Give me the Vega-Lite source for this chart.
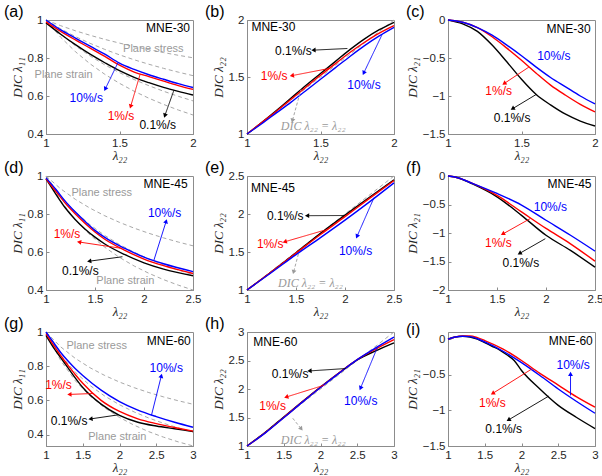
{
"$schema":"https://vega.github.io/schema/vega-lite/v6.json",
"background":"white",
"padding":{"left":3,"top":3,"right":0,"bottom":0},
"datasets":{
"curves":[
{"p":"a","s":"0.1%/s","x":1,"y":0.985},{"p":"a","s":"0.1%/s","x":1.1,"y":0.925},{"p":"a","s":"0.1%/s","x":1.2,"y":0.87},{"p":"a","s":"0.1%/s","x":1.3,"y":0.82},{"p":"a","s":"0.1%/s","x":1.4,"y":0.775},{"p":"a","s":"0.1%/s","x":1.5,"y":0.733},{"p":"a","s":"0.1%/s","x":1.6,"y":0.698},{"p":"a","s":"0.1%/s","x":1.7,"y":0.67},{"p":"a","s":"0.1%/s","x":1.8,"y":0.645},{"p":"a","s":"0.1%/s","x":1.9,"y":0.624},{"p":"a","s":"0.1%/s","x":2,"y":0.605},
{"p":"a","s":"1%/s","x":1,"y":0.99},{"p":"a","s":"1%/s","x":1.1,"y":0.94},{"p":"a","s":"1%/s","x":1.2,"y":0.895},{"p":"a","s":"1%/s","x":1.3,"y":0.852},{"p":"a","s":"1%/s","x":1.4,"y":0.808},{"p":"a","s":"1%/s","x":1.5,"y":0.762},{"p":"a","s":"1%/s","x":1.6,"y":0.726},{"p":"a","s":"1%/s","x":1.7,"y":0.702},{"p":"a","s":"1%/s","x":1.8,"y":0.678},{"p":"a","s":"1%/s","x":1.9,"y":0.655},{"p":"a","s":"1%/s","x":2,"y":0.635},
{"p":"a","s":"10%/s","x":1,"y":1.0},{"p":"a","s":"10%/s","x":1.1,"y":0.948},{"p":"a","s":"10%/s","x":1.2,"y":0.905},{"p":"a","s":"10%/s","x":1.3,"y":0.862},{"p":"a","s":"10%/s","x":1.4,"y":0.82},{"p":"a","s":"10%/s","x":1.5,"y":0.773},{"p":"a","s":"10%/s","x":1.6,"y":0.74},{"p":"a","s":"10%/s","x":1.7,"y":0.712},{"p":"a","s":"10%/s","x":1.8,"y":0.688},{"p":"a","s":"10%/s","x":1.9,"y":0.665},{"p":"a","s":"10%/s","x":2,"y":0.645},

{"p":"b","s":"0.1%/s","x":1,"y":1},{"p":"b","s":"0.1%/s","x":1.1,"y":1.1},{"p":"b","s":"0.1%/s","x":1.2,"y":1.205},{"p":"b","s":"0.1%/s","x":1.3,"y":1.315},{"p":"b","s":"0.1%/s","x":1.4,"y":1.425},{"p":"b","s":"0.1%/s","x":1.5,"y":1.53},{"p":"b","s":"0.1%/s","x":1.6,"y":1.635},{"p":"b","s":"0.1%/s","x":1.7,"y":1.74},{"p":"b","s":"0.1%/s","x":1.8,"y":1.835},{"p":"b","s":"0.1%/s","x":1.9,"y":1.915},{"p":"b","s":"0.1%/s","x":2,"y":1.98},
{"p":"b","s":"1%/s","x":1,"y":1},{"p":"b","s":"1%/s","x":1.1,"y":1.1},{"p":"b","s":"1%/s","x":1.2,"y":1.2},{"p":"b","s":"1%/s","x":1.3,"y":1.305},{"p":"b","s":"1%/s","x":1.4,"y":1.41},{"p":"b","s":"1%/s","x":1.5,"y":1.515},{"p":"b","s":"1%/s","x":1.6,"y":1.615},{"p":"b","s":"1%/s","x":1.7,"y":1.715},{"p":"b","s":"1%/s","x":1.8,"y":1.805},{"p":"b","s":"1%/s","x":1.9,"y":1.885},{"p":"b","s":"1%/s","x":2,"y":1.95},
{"p":"b","s":"10%/s","x":1,"y":1},{"p":"b","s":"10%/s","x":1.1,"y":1.09},{"p":"b","s":"10%/s","x":1.2,"y":1.185},{"p":"b","s":"10%/s","x":1.3,"y":1.28},{"p":"b","s":"10%/s","x":1.4,"y":1.38},{"p":"b","s":"10%/s","x":1.5,"y":1.48},{"p":"b","s":"10%/s","x":1.6,"y":1.58},{"p":"b","s":"10%/s","x":1.7,"y":1.68},{"p":"b","s":"10%/s","x":1.8,"y":1.775},{"p":"b","s":"10%/s","x":1.9,"y":1.86},{"p":"b","s":"10%/s","x":2,"y":1.935},

{"p":"c","s":"0.1%/s","x":1,"y":0},{"p":"c","s":"0.1%/s","x":1.1,"y":-0.05},{"p":"c","s":"0.1%/s","x":1.2,"y":-0.15},{"p":"c","s":"0.1%/s","x":1.3,"y":-0.33},{"p":"c","s":"0.1%/s","x":1.4,"y":-0.55},{"p":"c","s":"0.1%/s","x":1.5,"y":-0.78},{"p":"c","s":"0.1%/s","x":1.6,"y":-0.98},{"p":"c","s":"0.1%/s","x":1.7,"y":-1.12},{"p":"c","s":"0.1%/s","x":1.8,"y":-1.24},{"p":"c","s":"0.1%/s","x":1.9,"y":-1.33},{"p":"c","s":"0.1%/s","x":2,"y":-1.395},
{"p":"c","s":"1%/s","x":1,"y":0},{"p":"c","s":"1%/s","x":1.1,"y":-0.03},{"p":"c","s":"1%/s","x":1.2,"y":-0.1},{"p":"c","s":"1%/s","x":1.3,"y":-0.22},{"p":"c","s":"1%/s","x":1.4,"y":-0.37},{"p":"c","s":"1%/s","x":1.5,"y":-0.53},{"p":"c","s":"1%/s","x":1.6,"y":-0.7},{"p":"c","s":"1%/s","x":1.7,"y":-0.86},{"p":"c","s":"1%/s","x":1.8,"y":-0.99},{"p":"c","s":"1%/s","x":1.9,"y":-1.11},{"p":"c","s":"1%/s","x":2,"y":-1.21},
{"p":"c","s":"10%/s","x":1,"y":0},{"p":"c","s":"10%/s","x":1.1,"y":-0.03},{"p":"c","s":"10%/s","x":1.2,"y":-0.1},{"p":"c","s":"10%/s","x":1.3,"y":-0.2},{"p":"c","s":"10%/s","x":1.4,"y":-0.33},{"p":"c","s":"10%/s","x":1.5,"y":-0.47},{"p":"c","s":"10%/s","x":1.6,"y":-0.62},{"p":"c","s":"10%/s","x":1.7,"y":-0.76},{"p":"c","s":"10%/s","x":1.8,"y":-0.88},{"p":"c","s":"10%/s","x":1.9,"y":-1.0},{"p":"c","s":"10%/s","x":2,"y":-1.105},

{"p":"d","s":"0.1%/s","x":1,"y":0.985},{"p":"d","s":"0.1%/s","x":1.1,"y":0.905},{"p":"d","s":"0.1%/s","x":1.2,"y":0.83},{"p":"d","s":"0.1%/s","x":1.3,"y":0.77},{"p":"d","s":"0.1%/s","x":1.4,"y":0.72},{"p":"d","s":"0.1%/s","x":1.5,"y":0.678},{"p":"d","s":"0.1%/s","x":1.6,"y":0.642},{"p":"d","s":"0.1%/s","x":1.8,"y":0.587},{"p":"d","s":"0.1%/s","x":2,"y":0.543},{"p":"d","s":"0.1%/s","x":2.2,"y":0.51},{"p":"d","s":"0.1%/s","x":2.5,"y":0.475},
{"p":"d","s":"1%/s","x":1,"y":0.985},{"p":"d","s":"1%/s","x":1.1,"y":0.92},{"p":"d","s":"1%/s","x":1.2,"y":0.855},{"p":"d","s":"1%/s","x":1.3,"y":0.8},{"p":"d","s":"1%/s","x":1.4,"y":0.75},{"p":"d","s":"1%/s","x":1.5,"y":0.705},{"p":"d","s":"1%/s","x":1.6,"y":0.667},{"p":"d","s":"1%/s","x":1.8,"y":0.61},{"p":"d","s":"1%/s","x":2,"y":0.563},{"p":"d","s":"1%/s","x":2.2,"y":0.528},{"p":"d","s":"1%/s","x":2.5,"y":0.487},
{"p":"d","s":"10%/s","x":1,"y":0.99},{"p":"d","s":"10%/s","x":1.1,"y":0.93},{"p":"d","s":"10%/s","x":1.2,"y":0.865},{"p":"d","s":"10%/s","x":1.3,"y":0.81},{"p":"d","s":"10%/s","x":1.4,"y":0.76},{"p":"d","s":"10%/s","x":1.5,"y":0.714},{"p":"d","s":"10%/s","x":1.6,"y":0.677},{"p":"d","s":"10%/s","x":1.8,"y":0.62},{"p":"d","s":"10%/s","x":2,"y":0.573},{"p":"d","s":"10%/s","x":2.2,"y":0.538},{"p":"d","s":"10%/s","x":2.5,"y":0.497},

{"p":"e","s":"0.1%/s","x":1,"y":1},{"p":"e","s":"0.1%/s","x":1.25,"y":1.24},{"p":"e","s":"0.1%/s","x":1.5,"y":1.49},{"p":"e","s":"0.1%/s","x":1.75,"y":1.745},{"p":"e","s":"0.1%/s","x":2,"y":1.985},{"p":"e","s":"0.1%/s","x":2.25,"y":2.22},{"p":"e","s":"0.1%/s","x":2.5,"y":2.45},
{"p":"e","s":"1%/s","x":1,"y":1},{"p":"e","s":"1%/s","x":1.25,"y":1.24},{"p":"e","s":"1%/s","x":1.5,"y":1.485},{"p":"e","s":"1%/s","x":1.75,"y":1.73},{"p":"e","s":"1%/s","x":2,"y":1.965},{"p":"e","s":"1%/s","x":2.25,"y":2.205},{"p":"e","s":"1%/s","x":2.5,"y":2.44},
{"p":"e","s":"10%/s","x":1,"y":1},{"p":"e","s":"10%/s","x":1.25,"y":1.23},{"p":"e","s":"10%/s","x":1.5,"y":1.465},{"p":"e","s":"10%/s","x":1.75,"y":1.69},{"p":"e","s":"10%/s","x":2,"y":1.92},{"p":"e","s":"10%/s","x":2.25,"y":2.16},{"p":"e","s":"10%/s","x":2.5,"y":2.41},

{"p":"f","s":"0.1%/s","x":1,"y":0},{"p":"f","s":"0.1%/s","x":1.1,"y":-0.03},{"p":"f","s":"0.1%/s","x":1.25,"y":-0.14},{"p":"f","s":"0.1%/s","x":1.5,"y":-0.365},{"p":"f","s":"0.1%/s","x":1.75,"y":-0.69},{"p":"f","s":"0.1%/s","x":2,"y":-1.04},{"p":"f","s":"0.1%/s","x":2.25,"y":-1.306},{"p":"f","s":"0.1%/s","x":2.5,"y":-1.6},
{"p":"f","s":"1%/s","x":1,"y":0},{"p":"f","s":"1%/s","x":1.1,"y":-0.03},{"p":"f","s":"1%/s","x":1.25,"y":-0.13},{"p":"f","s":"1%/s","x":1.5,"y":-0.34},{"p":"f","s":"1%/s","x":1.75,"y":-0.63},{"p":"f","s":"1%/s","x":2,"y":-0.92},{"p":"f","s":"1%/s","x":2.25,"y":-1.19},{"p":"f","s":"1%/s","x":2.5,"y":-1.494},
{"p":"f","s":"10%/s","x":1,"y":0},{"p":"f","s":"10%/s","x":1.1,"y":-0.03},{"p":"f","s":"10%/s","x":1.25,"y":-0.13},{"p":"f","s":"10%/s","x":1.5,"y":-0.306},{"p":"f","s":"10%/s","x":1.75,"y":-0.51},{"p":"f","s":"10%/s","x":2,"y":-0.776},{"p":"f","s":"10%/s","x":2.25,"y":-1.04},{"p":"f","s":"10%/s","x":2.5,"y":-1.318},

{"p":"g","s":"0.1%/s","x":1,"y":0.98},{"p":"g","s":"0.1%/s","x":1.1,"y":0.91},{"p":"g","s":"0.1%/s","x":1.2,"y":0.85},{"p":"g","s":"0.1%/s","x":1.3,"y":0.79},{"p":"g","s":"0.1%/s","x":1.4,"y":0.73},{"p":"g","s":"0.1%/s","x":1.5,"y":0.675},{"p":"g","s":"0.1%/s","x":1.75,"y":0.578},{"p":"g","s":"0.1%/s","x":2,"y":0.512},{"p":"g","s":"0.1%/s","x":2.25,"y":0.472},{"p":"g","s":"0.1%/s","x":2.5,"y":0.45},{"p":"g","s":"0.1%/s","x":2.75,"y":0.434},{"p":"g","s":"0.1%/s","x":3,"y":0.418},
{"p":"g","s":"1%/s","x":1,"y":0.99},{"p":"g","s":"1%/s","x":1.1,"y":0.925},{"p":"g","s":"1%/s","x":1.2,"y":0.862},{"p":"g","s":"1%/s","x":1.3,"y":0.805},{"p":"g","s":"1%/s","x":1.4,"y":0.75},{"p":"g","s":"1%/s","x":1.5,"y":0.7},{"p":"g","s":"1%/s","x":1.75,"y":0.6},{"p":"g","s":"1%/s","x":2,"y":0.535},{"p":"g","s":"1%/s","x":2.25,"y":0.492},{"p":"g","s":"1%/s","x":2.5,"y":0.464},{"p":"g","s":"1%/s","x":2.75,"y":0.441},{"p":"g","s":"1%/s","x":3,"y":0.42},
{"p":"g","s":"10%/s","x":1,"y":1.0},{"p":"g","s":"10%/s","x":1.1,"y":0.94},{"p":"g","s":"10%/s","x":1.2,"y":0.88},{"p":"g","s":"10%/s","x":1.3,"y":0.83},{"p":"g","s":"10%/s","x":1.4,"y":0.785},{"p":"g","s":"10%/s","x":1.5,"y":0.746},{"p":"g","s":"10%/s","x":1.75,"y":0.66},{"p":"g","s":"10%/s","x":2,"y":0.593},{"p":"g","s":"10%/s","x":2.25,"y":0.543},{"p":"g","s":"10%/s","x":2.5,"y":0.505},{"p":"g","s":"10%/s","x":2.75,"y":0.472},{"p":"g","s":"10%/s","x":3,"y":0.443},

{"p":"h","s":"0.1%/s","x":1,"y":1},{"p":"h","s":"0.1%/s","x":1.25,"y":1.24},{"p":"h","s":"0.1%/s","x":1.5,"y":1.51},{"p":"h","s":"0.1%/s","x":1.75,"y":1.775},{"p":"h","s":"0.1%/s","x":2,"y":2.035},{"p":"h","s":"0.1%/s","x":2.25,"y":2.28},{"p":"h","s":"0.1%/s","x":2.5,"y":2.51},{"p":"h","s":"0.1%/s","x":2.75,"y":2.67},{"p":"h","s":"0.1%/s","x":3,"y":2.81},
{"p":"h","s":"1%/s","x":1,"y":1},{"p":"h","s":"1%/s","x":1.25,"y":1.235},{"p":"h","s":"1%/s","x":1.5,"y":1.5},{"p":"h","s":"1%/s","x":1.75,"y":1.77},{"p":"h","s":"1%/s","x":2,"y":2.03},{"p":"h","s":"1%/s","x":2.25,"y":2.28},{"p":"h","s":"1%/s","x":2.5,"y":2.515},{"p":"h","s":"1%/s","x":2.75,"y":2.7},{"p":"h","s":"1%/s","x":3,"y":2.865},
{"p":"h","s":"10%/s","x":1,"y":1},{"p":"h","s":"10%/s","x":1.25,"y":1.23},{"p":"h","s":"10%/s","x":1.5,"y":1.495},{"p":"h","s":"10%/s","x":1.75,"y":1.765},{"p":"h","s":"10%/s","x":2,"y":2.025},{"p":"h","s":"10%/s","x":2.25,"y":2.275},{"p":"h","s":"10%/s","x":2.5,"y":2.515},{"p":"h","s":"10%/s","x":2.75,"y":2.72},{"p":"h","s":"10%/s","x":3,"y":2.91},

{"p":"i","s":"0.1%/s","x":1,"y":0},{"p":"i","s":"0.1%/s","x":1.1,"y":0.03},{"p":"i","s":"0.1%/s","x":1.2,"y":0.04},{"p":"i","s":"0.1%/s","x":1.3,"y":0.03},{"p":"i","s":"0.1%/s","x":1.4,"y":0.0},{"p":"i","s":"0.1%/s","x":1.5,"y":-0.05},{"p":"i","s":"0.1%/s","x":1.6,"y":-0.1},{"p":"i","s":"0.1%/s","x":1.7,"y":-0.15},{"p":"i","s":"0.1%/s","x":1.8,"y":-0.22},{"p":"i","s":"0.1%/s","x":1.9,"y":-0.3},{"p":"i","s":"0.1%/s","x":2,"y":-0.44},{"p":"i","s":"0.1%/s","x":2.25,"y":-0.7},{"p":"i","s":"0.1%/s","x":2.5,"y":-0.93},{"p":"i","s":"0.1%/s","x":2.75,"y":-1.1},{"p":"i","s":"0.1%/s","x":3,"y":-1.255},
{"p":"i","s":"1%/s","x":1,"y":0},{"p":"i","s":"1%/s","x":1.1,"y":0.03},{"p":"i","s":"1%/s","x":1.2,"y":0.045},{"p":"i","s":"1%/s","x":1.3,"y":0.045},{"p":"i","s":"1%/s","x":1.4,"y":0.02},{"p":"i","s":"1%/s","x":1.5,"y":-0.02},{"p":"i","s":"1%/s","x":1.75,"y":-0.14},{"p":"i","s":"1%/s","x":2,"y":-0.3},{"p":"i","s":"1%/s","x":2.25,"y":-0.48},{"p":"i","s":"1%/s","x":2.5,"y":-0.645},{"p":"i","s":"1%/s","x":2.75,"y":-0.81},{"p":"i","s":"1%/s","x":3,"y":-0.955},
{"p":"i","s":"10%/s","x":1,"y":0},{"p":"i","s":"10%/s","x":1.1,"y":0.03},{"p":"i","s":"10%/s","x":1.2,"y":0.04},{"p":"i","s":"10%/s","x":1.3,"y":0.035},{"p":"i","s":"10%/s","x":1.4,"y":0.005},{"p":"i","s":"10%/s","x":1.5,"y":-0.04},{"p":"i","s":"10%/s","x":1.75,"y":-0.17},{"p":"i","s":"10%/s","x":2,"y":-0.33},{"p":"i","s":"10%/s","x":2.25,"y":-0.51},{"p":"i","s":"10%/s","x":2.5,"y":-0.7},{"p":"i","s":"10%/s","x":2.75,"y":-0.875},{"p":"i","s":"10%/s","x":3,"y":-1.04}
],
"ref":[
{"p":"a","k":"0.32","x":1,"y":1},{"p":"a","k":"0.32","x":1.1,"y":0.97},{"p":"a","k":"0.32","x":1.2,"y":0.9433},{"p":"a","k":"0.32","x":1.3,"y":0.9195},{"p":"a","k":"0.32","x":1.4,"y":0.8979},{"p":"a","k":"0.32","x":1.5,"y":0.8783},{"p":"a","k":"0.32","x":1.6,"y":0.8604},{"p":"a","k":"0.32","x":1.7,"y":0.8438},{"p":"a","k":"0.32","x":1.8,"y":0.8285},{"p":"a","k":"0.32","x":1.9,"y":0.8143},{"p":"a","k":"0.32","x":2,"y":0.8011},
{"p":"a","k":"0.5","x":1,"y":1},{"p":"a","k":"0.5","x":1.1,"y":0.9535},{"p":"a","k":"0.5","x":1.2,"y":0.9129},{"p":"a","k":"0.5","x":1.3,"y":0.8771},{"p":"a","k":"0.5","x":1.4,"y":0.8452},{"p":"a","k":"0.5","x":1.5,"y":0.8165},{"p":"a","k":"0.5","x":1.6,"y":0.7906},{"p":"a","k":"0.5","x":1.7,"y":0.767},{"p":"a","k":"0.5","x":1.8,"y":0.7454},{"p":"a","k":"0.5","x":1.9,"y":0.7255},{"p":"a","k":"0.5","x":2,"y":0.7071},
{"p":"a","k":"0.8","x":1,"y":1},{"p":"a","k":"0.8","x":1.1,"y":0.9266},{"p":"a","k":"0.8","x":1.2,"y":0.8643},{"p":"a","k":"0.8","x":1.3,"y":0.8107},{"p":"a","k":"0.8","x":1.4,"y":0.764},{"p":"a","k":"0.8","x":1.5,"y":0.723},{"p":"a","k":"0.8","x":1.6,"y":0.6866},{"p":"a","k":"0.8","x":1.7,"y":0.6541},{"p":"a","k":"0.8","x":1.8,"y":0.6249},{"p":"a","k":"0.8","x":1.9,"y":0.5984},{"p":"a","k":"0.8","x":2,"y":0.5743},
{"p":"a","k":"1","x":1,"y":1},{"p":"a","k":"1","x":1.1,"y":0.9091},{"p":"a","k":"1","x":1.2,"y":0.8333},{"p":"a","k":"1","x":1.3,"y":0.7692},{"p":"a","k":"1","x":1.4,"y":0.7143},{"p":"a","k":"1","x":1.5,"y":0.6667},{"p":"a","k":"1","x":1.6,"y":0.625},{"p":"a","k":"1","x":1.7,"y":0.5882},{"p":"a","k":"1","x":1.8,"y":0.5556},{"p":"a","k":"1","x":1.9,"y":0.5263},{"p":"a","k":"1","x":2,"y":0.5},
{"p":"b","k":"id","x":1,"y":1},{"p":"b","k":"id","x":2,"y":2},
{"p":"d","k":"0.5","x":1,"y":1},{"p":"d","k":"0.5","x":1.15,"y":0.9325},{"p":"d","k":"0.5","x":1.3,"y":0.8771},{"p":"d","k":"0.5","x":1.45,"y":0.8305},{"p":"d","k":"0.5","x":1.6,"y":0.7906},{"p":"d","k":"0.5","x":1.75,"y":0.7559},{"p":"d","k":"0.5","x":1.9,"y":0.7255},{"p":"d","k":"0.5","x":2.05,"y":0.6984},{"p":"d","k":"0.5","x":2.2,"y":0.6742},{"p":"d","k":"0.5","x":2.35,"y":0.6523},{"p":"d","k":"0.5","x":2.5,"y":0.6325},
{"p":"d","k":"0.8","x":1,"y":1},{"p":"d","k":"0.8","x":1.15,"y":0.8942},{"p":"d","k":"0.8","x":1.3,"y":0.8107},{"p":"d","k":"0.8","x":1.45,"y":0.7429},{"p":"d","k":"0.8","x":1.6,"y":0.6866},{"p":"d","k":"0.8","x":1.75,"y":0.6391},{"p":"d","k":"0.8","x":1.9,"y":0.5984},{"p":"d","k":"0.8","x":2.05,"y":0.5631},{"p":"d","k":"0.8","x":2.2,"y":0.5322},{"p":"d","k":"0.8","x":2.35,"y":0.5048},{"p":"d","k":"0.8","x":2.5,"y":0.4805},
{"p":"d","k":"1","x":1,"y":1},{"p":"d","k":"1","x":1.15,"y":0.8696},{"p":"d","k":"1","x":1.3,"y":0.7692},{"p":"d","k":"1","x":1.45,"y":0.6897},{"p":"d","k":"1","x":1.6,"y":0.625},{"p":"d","k":"1","x":1.75,"y":0.5714},{"p":"d","k":"1","x":1.9,"y":0.5263},{"p":"d","k":"1","x":2.05,"y":0.4878},{"p":"d","k":"1","x":2.2,"y":0.4545},{"p":"d","k":"1","x":2.35,"y":0.4255},{"p":"d","k":"1","x":2.5,"y":0.4},
{"p":"e","k":"id","x":1,"y":1},{"p":"e","k":"id","x":2.5,"y":2.5},
{"p":"g","k":"0.5","x":1,"y":1},{"p":"g","k":"0.5","x":1.2,"y":0.9129},{"p":"g","k":"0.5","x":1.4,"y":0.8452},{"p":"g","k":"0.5","x":1.6,"y":0.7906},{"p":"g","k":"0.5","x":1.8,"y":0.7454},{"p":"g","k":"0.5","x":2,"y":0.7071},{"p":"g","k":"0.5","x":2.2,"y":0.6742},{"p":"g","k":"0.5","x":2.4,"y":0.6455},{"p":"g","k":"0.5","x":2.6,"y":0.6202},{"p":"g","k":"0.5","x":2.8,"y":0.5976},{"p":"g","k":"0.5","x":3,"y":0.5774},
{"p":"g","k":"0.8","x":1,"y":1},{"p":"g","k":"0.8","x":1.2,"y":0.8643},{"p":"g","k":"0.8","x":1.4,"y":0.764},{"p":"g","k":"0.8","x":1.6,"y":0.6866},{"p":"g","k":"0.8","x":1.8,"y":0.6249},{"p":"g","k":"0.8","x":2,"y":0.5743},{"p":"g","k":"0.8","x":2.2,"y":0.5322},{"p":"g","k":"0.8","x":2.4,"y":0.4964},{"p":"g","k":"0.8","x":2.6,"y":0.4656},{"p":"g","k":"0.8","x":2.8,"y":0.4388},{"p":"g","k":"0.8","x":3,"y":0.4153},
{"p":"g","k":"1","x":1,"y":1},{"p":"g","k":"1","x":1.2,"y":0.8333},{"p":"g","k":"1","x":1.4,"y":0.7143},{"p":"g","k":"1","x":1.6,"y":0.625},{"p":"g","k":"1","x":1.8,"y":0.5556},{"p":"g","k":"1","x":2,"y":0.5},{"p":"g","k":"1","x":2.2,"y":0.4545},{"p":"g","k":"1","x":2.4,"y":0.4167},{"p":"g","k":"1","x":2.6,"y":0.3846},{"p":"g","k":"1","x":2.8,"y":0.3571},{"p":"g","k":"1","x":3,"y":0.3333},
{"p":"h","k":"id","x":1,"y":1},{"p":"h","k":"id","x":3,"y":3}
],
"arrows":[
{"p":"a","s":"10%/s","x0":1.49,"y0":0.776,"x":1.405,"y":0.64},
{"p":"a","s":"1%/s","x0":1.64,"y0":0.714,"x":1.577,"y":0.548},
{"p":"a","s":"0.1%/s","x0":1.87,"y0":0.63,"x":1.81,"y":0.5},
{"p":"b","s":"0.1%/s","x0":1.683,"y0":1.75,"x":1.457,"y":1.736},
{"p":"b","s":"1%/s","x0":1.559,"y0":1.575,"x":1.31,"y":1.513},
{"p":"b","s":"10%/s","x0":1.92,"y0":1.875,"x":1.796,"y":1.54},
{"p":"b","s":"eq","x0":1.367,"y0":1.39,"x":1.31,"y":1.123},
{"p":"c","s":"1%/s","x0":1.55,"y0":-0.62,"x":1.386,"y":-0.831},
{"p":"c","s":"0.1%/s","x0":1.6,"y0":-0.98,"x":1.443,"y":-1.163},
{"p":"d","s":"10%/s","x0":2.1,"y0":0.555,"x":2.224,"y":0.758},
{"p":"d","s":"1%/s","x0":1.76,"y0":0.62,"x":1.345,"y":0.652},
{"p":"d","s":"0.1%/s","x0":1.78,"y0":0.575,"x":1.448,"y":0.552},
{"p":"e","s":"0.1%/s","x0":1.99,"y0":1.98,"x":1.62,"y":1.978},
{"p":"e","s":"1%/s","x0":1.8,"y0":1.79,"x":1.392,"y":1.637},
{"p":"e","s":"10%/s","x0":2.296,"y0":2.215,"x":2.125,"y":1.712},
{"p":"e","s":"eq","x0":1.528,"y0":1.49,"x":1.477,"y":1.245},
{"p":"f","s":"1%/s","x0":1.839,"y0":-0.747,"x":1.565,"y":-1.012},
{"p":"f","s":"0.1%/s","x0":1.993,"y0":-1.1,"x":1.736,"y":-1.353},
{"p":"g","s":"10%/s","x0":2.435,"y0":0.513,"x":2.567,"y":0.74},
{"p":"g","s":"1%/s","x0":1.64,"y0":0.64,"x":1.328,"y":0.635},
{"p":"g","s":"0.1%/s","x0":1.98,"y0":0.515,"x":1.615,"y":0.492},
{"p":"h","s":"0.1%/s","x0":2.344,"y0":2.359,"x":1.86,"y":2.318},
{"p":"h","s":"1%/s","x0":2.05,"y0":2.067,"x":1.543,"y":1.863},
{"p":"h","s":"10%/s","x0":2.774,"y0":2.73,"x":2.548,"y":2.026},
{"p":"h","s":"eq","x0":1.606,"y0":1.513,"x":1.733,"y":1.309},
{"p":"i","s":"1%/s","x0":2.142,"y0":-0.418,"x":1.616,"y":-0.757},
{"p":"i","s":"0.1%/s","x0":2.37,"y0":-0.8,"x":1.831,"y":-1.129},
{"p":"i","s":"10%/s","x0":2.667,"y0":-0.79,"x":2.667,"y":-0.497}
],
"labels":[
{"p":"a","s":"name","t":"MNE-30","x":1.83,"y":0.956},
{"p":"a","s":"ref","t":"Plane stress","x":1.73,"y":0.847},
{"p":"a","s":"ref","t":"Plane strain","x":1.12,"y":0.71},
{"p":"a","s":"10%/s","t":"10%/s","x":1.274,"y":0.59},
{"p":"a","s":"1%/s","t":"1%/s","x":1.51,"y":0.496},
{"p":"a","s":"0.1%/s","t":"0.1%/s","x":1.76,"y":0.447},
{"p":"b","s":"name","t":"MNE-30","x":1.18,"y":1.94},
{"p":"b","s":"0.1%/s","t":"0.1%/s","x":1.316,"y":1.727},
{"p":"b","s":"1%/s","t":"1%/s","x":1.185,"y":1.507},
{"p":"b","s":"10%/s","t":"10%/s","x":1.796,"y":1.434},
{"p":"b","s":"eq","t":"DIC λ₂₂ = λ₂₂","x":1.45,"y":1.067},
{"p":"c","s":"name","t":"MNE-30","x":1.82,"y":-0.114},
{"p":"c","s":"10%/s","t":"10%/s","x":1.72,"y":-0.47},
{"p":"c","s":"1%/s","t":"1%/s","x":1.345,"y":-0.93},
{"p":"c","s":"0.1%/s","t":"0.1%/s","x":1.436,"y":-1.294},
{"p":"d","s":"name","t":"MNE-45","x":2.22,"y":0.958},
{"p":"d","s":"ref","t":"Plane stress","x":1.569,"y":0.908},
{"p":"d","s":"ref","t":"Plane strain","x":1.81,"y":0.446},
{"p":"d","s":"10%/s","t":"10%/s","x":2.21,"y":0.806},
{"p":"d","s":"1%/s","t":"1%/s","x":1.214,"y":0.696},
{"p":"d","s":"0.1%/s","t":"0.1%/s","x":1.35,"y":0.499},
{"p":"e","s":"name","t":"MNE-45","x":1.265,"y":2.34},
{"p":"e","s":"0.1%/s","t":"0.1%/s","x":1.39,"y":1.97},
{"p":"e","s":"1%/s","t":"1%/s","x":1.237,"y":1.61},
{"p":"e","s":"10%/s","t":"10%/s","x":2.108,"y":1.512},
{"p":"e","s":"eq","t":"DIC λ₂₂ = λ₂₂","x":1.648,"y":1.089},
{"p":"f","s":"name","t":"MNE-45","x":2.24,"y":-0.14},
{"p":"f","s":"10%/s","t":"10%/s","x":2.045,"y":-0.54},
{"p":"f","s":"1%/s","t":"1%/s","x":1.514,"y":-1.176},
{"p":"f","s":"0.1%/s","t":"0.1%/s","x":1.743,"y":-1.53},
{"p":"g","s":"name","t":"MNE-60","x":2.67,"y":0.947},
{"p":"g","s":"ref","t":"Plane stress","x":1.69,"y":0.916},
{"p":"g","s":"ref","t":"Plane strain","x":1.97,"y":0.388},
{"p":"g","s":"10%/s","t":"10%/s","x":2.636,"y":0.791},
{"p":"g","s":"1%/s","t":"1%/s","x":1.17,"y":0.691},
{"p":"g","s":"0.1%/s","t":"0.1%/s","x":1.314,"y":0.478},
{"p":"h","s":"name","t":"MNE-60","x":1.385,"y":2.825},
{"p":"h","s":"0.1%/s","t":"0.1%/s","x":1.586,"y":2.27},
{"p":"h","s":"1%/s","t":"1%/s","x":1.348,"y":1.7},
{"p":"h","s":"10%/s","t":"10%/s","x":2.548,"y":1.787},
{"p":"h","s":"eq","t":"DIC λ₂₂ = λ₂₂","x":1.9,"y":1.105},
{"p":"i","s":"name","t":"MNE-60","x":2.67,"y":-0.033},
{"p":"i","s":"10%/s","t":"10%/s","x":2.703,"y":-0.358},
{"p":"i","s":"1%/s","t":"1%/s","x":1.603,"y":-0.896},
{"p":"i","s":"0.1%/s","t":"0.1%/s","x":1.758,"y":-1.268}
]
},
"columns":3,
"bounds":"flush",
"spacing":{"row":42,"column":54},
"concat":[
{"title":"(a)","width":147,"height":114,
 "encoding":{"x":{"field":"x","type":"quantitative","scale":{"domain":[1,2],"nice":false,"zero":false},"axis":{"values":[1,1.5,2],"format":"~g","title":"λ₂₂"}},
  "y":{"field":"y","type":"quantitative","scale":{"domain":[0.4,1],"nice":false,"zero":false},"axis":{"values":[0.4,0.6,0.8,1],"format":"~g","title":"DIC λ₁₁"}}},
 "layer":[
  {"data":{"name":"ref"},"transform":[{"filter":"datum.p=='a'"}],"mark":{"type":"line","strokeDash":[4,3],"strokeWidth":1,"color":"#a8a8a8"},"encoding":{"detail":{"field":"k","type":"nominal"}}},
  {"data":{"name":"curves"},"transform":[{"filter":"datum.p=='a'"}],"mark":{"type":"line","strokeWidth":1.4,"interpolate":"monotone"},"encoding":{"detail":{"field":"s","type":"nominal"},"color":{"field":"s","type":"nominal","scale":{"domain":["0.1%/s","1%/s","10%/s","ref","name","eq"],"range":["#000000","#ff0000","#0000ff","#9a9a9a","#000000","#9a9a9a"]},"legend":null}}},
  {"data":{"name":"arrows"},"transform":[{"filter":"datum.p=='a'"}],"mark":{"type":"rule","strokeWidth":0.9},"encoding":{"x2":{"field":"x0"},"y2":{"field":"y0"},"strokeDash":{"condition":{"test":"datum.s=='eq'","value":[3,2]},"value":[1,0]},"color":{"field":"s","type":"nominal","scale":{"domain":["0.1%/s","1%/s","10%/s","ref","name","eq"],"range":["#000000","#ff0000","#0000ff","#9a9a9a","#000000","#9a9a9a"]},"legend":null}}},
  {"data":{"name":"arrows"},"transform":[{"filter":"datum.p=='a'"},{"calculate":"atan2((datum.x-datum.x0)*146,(datum.y-datum.y0)*190)*180/PI","as":"ang"}],"mark":{"type":"point","shape":"triangle","filled":true,"opacity":1,"size":24},"encoding":{"angle":{"field":"ang","type":"quantitative","scale":null},"color":{"field":"s","type":"nominal","scale":{"domain":["0.1%/s","1%/s","10%/s","ref","name","eq"],"range":["#000000","#ff0000","#0000ff","#9a9a9a","#000000","#9a9a9a"]},"legend":null}}},
  {"data":{"name":"labels"},"transform":[{"filter":"datum.p=='a' && datum.s!='eq'"}],"mark":{"type":"text","font":"Liberation Sans","baseline":"middle"},"encoding":{"text":{"field":"t","type":"nominal"},"size":{"condition":{"test":"datum.s=='ref'","value":11},"value":12},"color":{"field":"s","type":"nominal","scale":{"domain":["0.1%/s","1%/s","10%/s","ref","name","eq"],"range":["#000000","#ff0000","#0000ff","#9a9a9a","#000000","#9a9a9a"]},"legend":null}}}
 ]},
{"title":"(b)","width":147,"height":114,
 "encoding":{"x":{"field":"x","type":"quantitative","scale":{"domain":[1,2],"nice":false,"zero":false},"axis":{"values":[1,1.5,2],"format":"~g","title":"λ₂₂"}},
  "y":{"field":"y","type":"quantitative","scale":{"domain":[1,2],"nice":false,"zero":false},"axis":{"values":[1,1.5,2],"format":"~g","title":"DIC λ₂₂"}}},
 "layer":[
  {"data":{"name":"ref"},"transform":[{"filter":"datum.p=='b'"}],"mark":{"type":"line","strokeDash":[4,3],"strokeWidth":1,"color":"#a8a8a8"},"encoding":{"detail":{"field":"k","type":"nominal"}}},
  {"data":{"name":"curves"},"transform":[{"filter":"datum.p=='b'"}],"mark":{"type":"line","strokeWidth":1.4,"interpolate":"monotone"},"encoding":{"detail":{"field":"s","type":"nominal"},"color":{"field":"s","type":"nominal","scale":{"domain":["0.1%/s","1%/s","10%/s","ref","name","eq"],"range":["#000000","#ff0000","#0000ff","#9a9a9a","#000000","#9a9a9a"]},"legend":null}}},
  {"data":{"name":"arrows"},"transform":[{"filter":"datum.p=='b'"}],"mark":{"type":"rule","strokeWidth":0.9},"encoding":{"x2":{"field":"x0"},"y2":{"field":"y0"},"strokeDash":{"condition":{"test":"datum.s=='eq'","value":[3,2]},"value":[1,0]},"color":{"field":"s","type":"nominal","scale":{"domain":["0.1%/s","1%/s","10%/s","ref","name","eq"],"range":["#000000","#ff0000","#0000ff","#9a9a9a","#000000","#9a9a9a"]},"legend":null}}},
  {"data":{"name":"arrows"},"transform":[{"filter":"datum.p=='b'"},{"calculate":"atan2((datum.x-datum.x0)*146,(datum.y-datum.y0)*114)*180/PI","as":"ang"}],"mark":{"type":"point","shape":"triangle","filled":true,"opacity":1,"size":24},"encoding":{"angle":{"field":"ang","type":"quantitative","scale":null},"color":{"field":"s","type":"nominal","scale":{"domain":["0.1%/s","1%/s","10%/s","ref","name","eq"],"range":["#000000","#ff0000","#0000ff","#9a9a9a","#000000","#9a9a9a"]},"legend":null}}},
  {"data":{"name":"labels"},"transform":[{"filter":"datum.p=='b' && datum.s!='eq'"}],"mark":{"type":"text","font":"Liberation Sans","baseline":"middle"},"encoding":{"text":{"field":"t","type":"nominal"},"size":{"condition":{"test":"datum.s=='ref'","value":11},"value":12},"color":{"field":"s","type":"nominal","scale":{"domain":["0.1%/s","1%/s","10%/s","ref","name","eq"],"range":["#000000","#ff0000","#0000ff","#9a9a9a","#000000","#9a9a9a"]},"legend":null}}},
  {"data":{"name":"labels"},"transform":[{"filter":"datum.p=='b' && datum.s=='eq'"}],"mark":{"type":"text","font":"Liberation Serif","fontStyle":"italic","fontSize":12,"baseline":"middle","color":"#9a9a9a"},"encoding":{"text":{"field":"t","type":"nominal"}}}
 ]},
{"title":"(c)","width":147,"height":114,
 "encoding":{"x":{"field":"x","type":"quantitative","scale":{"domain":[1,2],"nice":false,"zero":false},"axis":{"values":[1,1.5,2],"format":"~g","title":"λ₂₂"}},
  "y":{"field":"y","type":"quantitative","scale":{"domain":[-1.5,0],"nice":false,"zero":false},"axis":{"values":[-1.5,-1,-0.5,0],"format":"~g","title":"DIC λ₂₁"}}},
 "layer":[
  {"data":{"name":"curves"},"transform":[{"filter":"datum.p=='c'"}],"mark":{"type":"line","strokeWidth":1.4,"interpolate":"monotone"},"encoding":{"detail":{"field":"s","type":"nominal"},"color":{"field":"s","type":"nominal","scale":{"domain":["0.1%/s","1%/s","10%/s","ref","name","eq"],"range":["#000000","#ff0000","#0000ff","#9a9a9a","#000000","#9a9a9a"]},"legend":null}}},
  {"data":{"name":"arrows"},"transform":[{"filter":"datum.p=='c'"}],"mark":{"type":"rule","strokeWidth":0.9},"encoding":{"x2":{"field":"x0"},"y2":{"field":"y0"},"color":{"field":"s","type":"nominal","scale":{"domain":["0.1%/s","1%/s","10%/s","ref","name","eq"],"range":["#000000","#ff0000","#0000ff","#9a9a9a","#000000","#9a9a9a"]},"legend":null}}},
  {"data":{"name":"arrows"},"transform":[{"filter":"datum.p=='c'"},{"calculate":"atan2((datum.x-datum.x0)*146,(datum.y-datum.y0)*76)*180/PI","as":"ang"}],"mark":{"type":"point","shape":"triangle","filled":true,"opacity":1,"size":24},"encoding":{"angle":{"field":"ang","type":"quantitative","scale":null},"color":{"field":"s","type":"nominal","scale":{"domain":["0.1%/s","1%/s","10%/s","ref","name","eq"],"range":["#000000","#ff0000","#0000ff","#9a9a9a","#000000","#9a9a9a"]},"legend":null}}},
  {"data":{"name":"labels"},"transform":[{"filter":"datum.p=='c' && datum.s!='eq'"}],"mark":{"type":"text","font":"Liberation Sans","baseline":"middle","fontSize":12},"encoding":{"text":{"field":"t","type":"nominal"},"color":{"field":"s","type":"nominal","scale":{"domain":["0.1%/s","1%/s","10%/s","ref","name","eq"],"range":["#000000","#ff0000","#0000ff","#9a9a9a","#000000","#9a9a9a"]},"legend":null}}}
 ]},
{"title":"(d)","width":147,"height":114,
 "encoding":{"x":{"field":"x","type":"quantitative","scale":{"domain":[1,2.5],"nice":false,"zero":false},"axis":{"values":[1,1.5,2,2.5],"format":"~g","title":"λ₂₂"}},
  "y":{"field":"y","type":"quantitative","scale":{"domain":[0.4,1],"nice":false,"zero":false},"axis":{"values":[0.4,0.6,0.8,1],"format":"~g","title":"DIC λ₁₁"}}},
 "layer":[
  {"data":{"name":"ref"},"transform":[{"filter":"datum.p=='d'"}],"mark":{"type":"line","strokeDash":[4,3],"strokeWidth":1,"color":"#a8a8a8"},"encoding":{"detail":{"field":"k","type":"nominal"}}},
  {"data":{"name":"curves"},"transform":[{"filter":"datum.p=='d'"}],"mark":{"type":"line","strokeWidth":1.4,"interpolate":"monotone"},"encoding":{"detail":{"field":"s","type":"nominal"},"color":{"field":"s","type":"nominal","scale":{"domain":["0.1%/s","1%/s","10%/s","ref","name","eq"],"range":["#000000","#ff0000","#0000ff","#9a9a9a","#000000","#9a9a9a"]},"legend":null}}},
  {"data":{"name":"arrows"},"transform":[{"filter":"datum.p=='d'"}],"mark":{"type":"rule","strokeWidth":0.9},"encoding":{"x2":{"field":"x0"},"y2":{"field":"y0"},"color":{"field":"s","type":"nominal","scale":{"domain":["0.1%/s","1%/s","10%/s","ref","name","eq"],"range":["#000000","#ff0000","#0000ff","#9a9a9a","#000000","#9a9a9a"]},"legend":null}}},
  {"data":{"name":"arrows"},"transform":[{"filter":"datum.p=='d'"},{"calculate":"atan2((datum.x-datum.x0)*97.3,(datum.y-datum.y0)*190)*180/PI","as":"ang"}],"mark":{"type":"point","shape":"triangle","filled":true,"opacity":1,"size":24},"encoding":{"angle":{"field":"ang","type":"quantitative","scale":null},"color":{"field":"s","type":"nominal","scale":{"domain":["0.1%/s","1%/s","10%/s","ref","name","eq"],"range":["#000000","#ff0000","#0000ff","#9a9a9a","#000000","#9a9a9a"]},"legend":null}}},
  {"data":{"name":"labels"},"transform":[{"filter":"datum.p=='d' && datum.s!='eq'"}],"mark":{"type":"text","font":"Liberation Sans","baseline":"middle"},"encoding":{"text":{"field":"t","type":"nominal"},"size":{"condition":{"test":"datum.s=='ref'","value":11},"value":12},"color":{"field":"s","type":"nominal","scale":{"domain":["0.1%/s","1%/s","10%/s","ref","name","eq"],"range":["#000000","#ff0000","#0000ff","#9a9a9a","#000000","#9a9a9a"]},"legend":null}}}
 ]},
{"title":"(e)","width":147,"height":114,
 "encoding":{"x":{"field":"x","type":"quantitative","scale":{"domain":[1,2.5],"nice":false,"zero":false},"axis":{"values":[1,1.5,2,2.5],"format":"~g","title":"λ₂₂"}},
  "y":{"field":"y","type":"quantitative","scale":{"domain":[1,2.5],"nice":false,"zero":false},"axis":{"values":[1,1.5,2,2.5],"format":"~g","title":"DIC λ₂₂"}}},
 "layer":[
  {"data":{"name":"ref"},"transform":[{"filter":"datum.p=='e'"}],"mark":{"type":"line","strokeDash":[4,3],"strokeWidth":1,"color":"#a8a8a8"},"encoding":{"detail":{"field":"k","type":"nominal"}}},
  {"data":{"name":"curves"},"transform":[{"filter":"datum.p=='e'"}],"mark":{"type":"line","strokeWidth":1.4,"interpolate":"monotone"},"encoding":{"detail":{"field":"s","type":"nominal"},"color":{"field":"s","type":"nominal","scale":{"domain":["0.1%/s","1%/s","10%/s","ref","name","eq"],"range":["#000000","#ff0000","#0000ff","#9a9a9a","#000000","#9a9a9a"]},"legend":null}}},
  {"data":{"name":"arrows"},"transform":[{"filter":"datum.p=='e'"}],"mark":{"type":"rule","strokeWidth":0.9},"encoding":{"x2":{"field":"x0"},"y2":{"field":"y0"},"strokeDash":{"condition":{"test":"datum.s=='eq'","value":[3,2]},"value":[1,0]},"color":{"field":"s","type":"nominal","scale":{"domain":["0.1%/s","1%/s","10%/s","ref","name","eq"],"range":["#000000","#ff0000","#0000ff","#9a9a9a","#000000","#9a9a9a"]},"legend":null}}},
  {"data":{"name":"arrows"},"transform":[{"filter":"datum.p=='e'"},{"calculate":"atan2((datum.x-datum.x0)*97.3,(datum.y-datum.y0)*76)*180/PI","as":"ang"}],"mark":{"type":"point","shape":"triangle","filled":true,"opacity":1,"size":24},"encoding":{"angle":{"field":"ang","type":"quantitative","scale":null},"color":{"field":"s","type":"nominal","scale":{"domain":["0.1%/s","1%/s","10%/s","ref","name","eq"],"range":["#000000","#ff0000","#0000ff","#9a9a9a","#000000","#9a9a9a"]},"legend":null}}},
  {"data":{"name":"labels"},"transform":[{"filter":"datum.p=='e' && datum.s!='eq'"}],"mark":{"type":"text","font":"Liberation Sans","baseline":"middle","fontSize":12},"encoding":{"text":{"field":"t","type":"nominal"},"color":{"field":"s","type":"nominal","scale":{"domain":["0.1%/s","1%/s","10%/s","ref","name","eq"],"range":["#000000","#ff0000","#0000ff","#9a9a9a","#000000","#9a9a9a"]},"legend":null}}},
  {"data":{"name":"labels"},"transform":[{"filter":"datum.p=='e' && datum.s=='eq'"}],"mark":{"type":"text","font":"Liberation Serif","fontStyle":"italic","fontSize":12,"baseline":"middle","color":"#9a9a9a"},"encoding":{"text":{"field":"t","type":"nominal"}}}
 ]},
{"title":"(f)","width":147,"height":114,
 "encoding":{"x":{"field":"x","type":"quantitative","scale":{"domain":[1,2.5],"nice":false,"zero":false},"axis":{"values":[1,1.5,2,2.5],"format":"~g","title":"λ₂₂"}},
  "y":{"field":"y","type":"quantitative","scale":{"domain":[-2,0],"nice":false,"zero":false},"axis":{"values":[-2,-1.5,-1,-0.5,0],"format":"~g","title":"DIC λ₂₁"}}},
 "layer":[
  {"data":{"name":"curves"},"transform":[{"filter":"datum.p=='f'"}],"mark":{"type":"line","strokeWidth":1.4,"interpolate":"monotone"},"encoding":{"detail":{"field":"s","type":"nominal"},"color":{"field":"s","type":"nominal","scale":{"domain":["0.1%/s","1%/s","10%/s","ref","name","eq"],"range":["#000000","#ff0000","#0000ff","#9a9a9a","#000000","#9a9a9a"]},"legend":null}}},
  {"data":{"name":"arrows"},"transform":[{"filter":"datum.p=='f'"}],"mark":{"type":"rule","strokeWidth":0.9},"encoding":{"x2":{"field":"x0"},"y2":{"field":"y0"},"color":{"field":"s","type":"nominal","scale":{"domain":["0.1%/s","1%/s","10%/s","ref","name","eq"],"range":["#000000","#ff0000","#0000ff","#9a9a9a","#000000","#9a9a9a"]},"legend":null}}},
  {"data":{"name":"arrows"},"transform":[{"filter":"datum.p=='f'"},{"calculate":"atan2((datum.x-datum.x0)*97.3,(datum.y-datum.y0)*57)*180/PI","as":"ang"}],"mark":{"type":"point","shape":"triangle","filled":true,"opacity":1,"size":24},"encoding":{"angle":{"field":"ang","type":"quantitative","scale":null},"color":{"field":"s","type":"nominal","scale":{"domain":["0.1%/s","1%/s","10%/s","ref","name","eq"],"range":["#000000","#ff0000","#0000ff","#9a9a9a","#000000","#9a9a9a"]},"legend":null}}},
  {"data":{"name":"labels"},"transform":[{"filter":"datum.p=='f' && datum.s!='eq'"}],"mark":{"type":"text","font":"Liberation Sans","baseline":"middle","fontSize":12},"encoding":{"text":{"field":"t","type":"nominal"},"color":{"field":"s","type":"nominal","scale":{"domain":["0.1%/s","1%/s","10%/s","ref","name","eq"],"range":["#000000","#ff0000","#0000ff","#9a9a9a","#000000","#9a9a9a"]},"legend":null}}}
 ]},
{"title":"(g)","width":147,"height":114,
 "encoding":{"x":{"field":"x","type":"quantitative","scale":{"domain":[1,3],"nice":false,"zero":false},"axis":{"values":[1,1.5,2,2.5,3],"format":"~g","title":"λ₂₂"}},
  "y":{"field":"y","type":"quantitative","scale":{"domain":[0.333,1],"nice":false,"zero":false},"axis":{"values":[0.4,0.6,0.8,1],"format":"~g","title":"DIC λ₁₁"}}},
 "layer":[
  {"data":{"name":"ref"},"transform":[{"filter":"datum.p=='g'"}],"mark":{"type":"line","strokeDash":[4,3],"strokeWidth":1,"color":"#a8a8a8"},"encoding":{"detail":{"field":"k","type":"nominal"}}},
  {"data":{"name":"curves"},"transform":[{"filter":"datum.p=='g'"}],"mark":{"type":"line","strokeWidth":1.4,"interpolate":"monotone"},"encoding":{"detail":{"field":"s","type":"nominal"},"color":{"field":"s","type":"nominal","scale":{"domain":["0.1%/s","1%/s","10%/s","ref","name","eq"],"range":["#000000","#ff0000","#0000ff","#9a9a9a","#000000","#9a9a9a"]},"legend":null}}},
  {"data":{"name":"arrows"},"transform":[{"filter":"datum.p=='g'"}],"mark":{"type":"rule","strokeWidth":0.9},"encoding":{"x2":{"field":"x0"},"y2":{"field":"y0"},"color":{"field":"s","type":"nominal","scale":{"domain":["0.1%/s","1%/s","10%/s","ref","name","eq"],"range":["#000000","#ff0000","#0000ff","#9a9a9a","#000000","#9a9a9a"]},"legend":null}}},
  {"data":{"name":"arrows"},"transform":[{"filter":"datum.p=='g'"},{"calculate":"atan2((datum.x-datum.x0)*73,(datum.y-datum.y0)*171)*180/PI","as":"ang"}],"mark":{"type":"point","shape":"triangle","filled":true,"opacity":1,"size":24},"encoding":{"angle":{"field":"ang","type":"quantitative","scale":null},"color":{"field":"s","type":"nominal","scale":{"domain":["0.1%/s","1%/s","10%/s","ref","name","eq"],"range":["#000000","#ff0000","#0000ff","#9a9a9a","#000000","#9a9a9a"]},"legend":null}}},
  {"data":{"name":"labels"},"transform":[{"filter":"datum.p=='g' && datum.s!='eq'"}],"mark":{"type":"text","font":"Liberation Sans","baseline":"middle"},"encoding":{"text":{"field":"t","type":"nominal"},"size":{"condition":{"test":"datum.s=='ref'","value":11},"value":12},"color":{"field":"s","type":"nominal","scale":{"domain":["0.1%/s","1%/s","10%/s","ref","name","eq"],"range":["#000000","#ff0000","#0000ff","#9a9a9a","#000000","#9a9a9a"]},"legend":null}}}
 ]},
{"title":"(h)","width":147,"height":114,
 "encoding":{"x":{"field":"x","type":"quantitative","scale":{"domain":[1,3],"nice":false,"zero":false},"axis":{"values":[1,1.5,2,2.5,3],"format":"~g","title":"λ₂₂"}},
  "y":{"field":"y","type":"quantitative","scale":{"domain":[1,3],"nice":false,"zero":false},"axis":{"values":[1,1.5,2,2.5,3],"format":"~g","title":"DIC λ₂₂"}}},
 "layer":[
  {"data":{"name":"ref"},"transform":[{"filter":"datum.p=='h'"}],"mark":{"type":"line","strokeDash":[4,3],"strokeWidth":1,"color":"#a8a8a8"},"encoding":{"detail":{"field":"k","type":"nominal"}}},
  {"data":{"name":"curves"},"transform":[{"filter":"datum.p=='h'"}],"mark":{"type":"line","strokeWidth":1.4,"interpolate":"monotone"},"encoding":{"detail":{"field":"s","type":"nominal"},"color":{"field":"s","type":"nominal","scale":{"domain":["0.1%/s","1%/s","10%/s","ref","name","eq"],"range":["#000000","#ff0000","#0000ff","#9a9a9a","#000000","#9a9a9a"]},"legend":null}}},
  {"data":{"name":"arrows"},"transform":[{"filter":"datum.p=='h'"}],"mark":{"type":"rule","strokeWidth":0.9},"encoding":{"x2":{"field":"x0"},"y2":{"field":"y0"},"strokeDash":{"condition":{"test":"datum.s=='eq'","value":[3,2]},"value":[1,0]},"color":{"field":"s","type":"nominal","scale":{"domain":["0.1%/s","1%/s","10%/s","ref","name","eq"],"range":["#000000","#ff0000","#0000ff","#9a9a9a","#000000","#9a9a9a"]},"legend":null}}},
  {"data":{"name":"arrows"},"transform":[{"filter":"datum.p=='h'"},{"calculate":"atan2((datum.x-datum.x0)*73,(datum.y-datum.y0)*57)*180/PI","as":"ang"}],"mark":{"type":"point","shape":"triangle","filled":true,"opacity":1,"size":24},"encoding":{"angle":{"field":"ang","type":"quantitative","scale":null},"color":{"field":"s","type":"nominal","scale":{"domain":["0.1%/s","1%/s","10%/s","ref","name","eq"],"range":["#000000","#ff0000","#0000ff","#9a9a9a","#000000","#9a9a9a"]},"legend":null}}},
  {"data":{"name":"labels"},"transform":[{"filter":"datum.p=='h' && datum.s!='eq'"}],"mark":{"type":"text","font":"Liberation Sans","baseline":"middle","fontSize":12},"encoding":{"text":{"field":"t","type":"nominal"},"color":{"field":"s","type":"nominal","scale":{"domain":["0.1%/s","1%/s","10%/s","ref","name","eq"],"range":["#000000","#ff0000","#0000ff","#9a9a9a","#000000","#9a9a9a"]},"legend":null}}},
  {"data":{"name":"labels"},"transform":[{"filter":"datum.p=='h' && datum.s=='eq'"}],"mark":{"type":"text","font":"Liberation Serif","fontStyle":"italic","fontSize":12,"baseline":"middle","color":"#9a9a9a"},"encoding":{"text":{"field":"t","type":"nominal"}}}
 ]},
{"title":"(i)","width":147,"height":114,
 "encoding":{"x":{"field":"x","type":"quantitative","scale":{"domain":[1,3],"nice":false,"zero":false},"axis":{"values":[1,1.5,2,2.5,3],"format":"~g","title":"λ₂₂"}},
  "y":{"field":"y","type":"quantitative","scale":{"domain":[-1.5,0.1],"nice":false,"zero":false},"axis":{"values":[-1.5,-1,-0.5,0],"format":"~g","title":"DIC λ₂₁"}}},
 "layer":[
  {"data":{"name":"curves"},"transform":[{"filter":"datum.p=='i'"}],"mark":{"type":"line","strokeWidth":1.4,"interpolate":"monotone"},"encoding":{"detail":{"field":"s","type":"nominal"},"color":{"field":"s","type":"nominal","scale":{"domain":["0.1%/s","1%/s","10%/s","ref","name","eq"],"range":["#000000","#ff0000","#0000ff","#9a9a9a","#000000","#9a9a9a"]},"legend":null}}},
  {"data":{"name":"arrows"},"transform":[{"filter":"datum.p=='i'"}],"mark":{"type":"rule","strokeWidth":0.9},"encoding":{"x2":{"field":"x0"},"y2":{"field":"y0"},"color":{"field":"s","type":"nominal","scale":{"domain":["0.1%/s","1%/s","10%/s","ref","name","eq"],"range":["#000000","#ff0000","#0000ff","#9a9a9a","#000000","#9a9a9a"]},"legend":null}}},
  {"data":{"name":"arrows"},"transform":[{"filter":"datum.p=='i'"},{"calculate":"atan2((datum.x-datum.x0)*73,(datum.y-datum.y0)*71.25)*180/PI","as":"ang"}],"mark":{"type":"point","shape":"triangle","filled":true,"opacity":1,"size":24},"encoding":{"angle":{"field":"ang","type":"quantitative","scale":null},"color":{"field":"s","type":"nominal","scale":{"domain":["0.1%/s","1%/s","10%/s","ref","name","eq"],"range":["#000000","#ff0000","#0000ff","#9a9a9a","#000000","#9a9a9a"]},"legend":null}}},
  {"data":{"name":"labels"},"transform":[{"filter":"datum.p=='i' && datum.s!='eq'"}],"mark":{"type":"text","font":"Liberation Sans","baseline":"middle","fontSize":12},"encoding":{"text":{"field":"t","type":"nominal"},"color":{"field":"s","type":"nominal","scale":{"domain":["0.1%/s","1%/s","10%/s","ref","name","eq"],"range":["#000000","#ff0000","#0000ff","#9a9a9a","#000000","#9a9a9a"]},"legend":null}}}
 ]}
],
"config":{
 "view":{"stroke":"#8c8c8c","strokeWidth":1},
 "axis":{"grid":false,"domainColor":"#8c8c8c","tickColor":"#8c8c8c","tickSize":-3,"labelPadding":6,"labelFont":"Liberation Sans","labelFontSize":11.5,"labelColor":"#262626","titleFont":"Liberation Serif","titleFontStyle":"italic","titleFontWeight":"normal","titleFontSize":13,"titleColor":"#262626","labelFlush":false,"labelOverlap":false},
 "axisX":{"titlePadding":1},
 "axisY":{"titlePadding":3},
 "title":{"anchor":"start","frame":"group","font":"Liberation Sans","fontSize":16,"fontWeight":"normal","color":"#000000","dx":-42,"offset":-6}
}
}
